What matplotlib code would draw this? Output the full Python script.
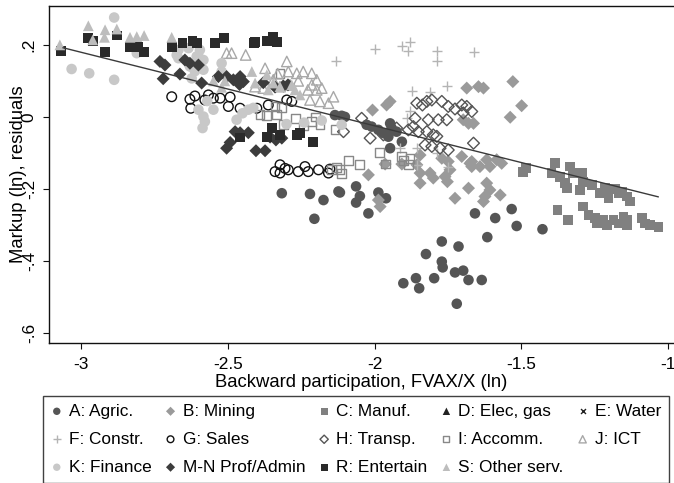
import matplotlib
matplotlib.use("Agg")
import matplotlib.pyplot as plt
import numpy as np

plt.rcParams['font.family'] = ['Liberation Sans', 'DejaVu Sans']

# ---------------- data ----------------
A_x = [-2.135, -2.112, -2.101, -2.027, -2.010, -1.987, -1.970, -1.947, -1.942, -1.925, -1.953, -1.907, -1.947,
       -2.316, -2.220, -2.174, -2.123, -2.205, -2.118, -2.063, -2.050, -2.063, -1.987, -1.961, -2.021,
       -1.658, -1.589, -1.533, -1.516, -1.616, -1.428,
       -1.771, -1.714, -1.825, -1.771, -1.768, -1.726, -1.698, -1.680, -1.635, -1.797, -1.859, -1.902, -1.848, -1.720]
A_y = [0.005, 0.003, 0.000, -0.022, -0.027, -0.036, -0.045, -0.018, -0.031, -0.041, -0.055, -0.069, -0.087,
       -0.212, -0.214, -0.231, -0.207, -0.283, -0.210, -0.193, -0.220, -0.238, -0.210, -0.226, -0.268,
       -0.268, -0.281, -0.256, -0.303, -0.334, -0.312,
       -0.346, -0.360, -0.381, -0.402, -0.418, -0.432, -0.427, -0.453, -0.453, -0.448, -0.448, -0.462, -0.476, -0.519]

B_x = [-2.007, -1.959, -1.947, -2.021, -1.964, -1.907, -1.845, -1.856, -1.845, -1.811, -1.845, -1.771, -1.749,
       -1.743, -1.760, -1.703, -1.669, -1.669, -1.680, -1.686, -1.646, -1.629, -1.529, -1.499, -1.538, -1.698,
       -1.680, -1.663, -1.675, -1.641, -1.618, -1.607, -1.584, -1.567, -1.618, -1.607, -1.624, -1.629, -1.572,
       -1.987, -1.981, -1.726, -1.752, -1.800]
B_y = [0.019, 0.033, 0.043, -0.161, -0.131, -0.131, -0.106, -0.133, -0.156, -0.156, -0.184, -0.115, -0.124,
       -0.147, -0.166, -0.110, -0.124, -0.138, -0.198, 0.080, 0.084, 0.080, 0.098, 0.031, -0.001, -0.008,
       -0.018, -0.018, -0.129, -0.138, -0.119, -0.138, -0.119, -0.129, -0.184, -0.203, -0.221, -0.235, -0.217,
       -0.231, -0.249, -0.226, -0.180, -0.170]

C_x = [-1.493, -1.484, -1.385, -1.397, -1.368, -1.351, -1.345, -1.334, -1.323, -1.294, -1.289, -1.300,
       -1.232, -1.215, -1.203, -1.169, -1.158, -1.141, -1.130, -1.377, -1.340, -1.289, -1.271, -1.249,
       -1.243, -1.220, -1.209, -1.186, -1.169, -1.152, -1.141, -1.141, -1.090, -1.078, -1.061, -1.033,
       -1.260, -1.180]
C_y = [-0.152, -0.143, -0.129, -0.156, -0.166, -0.184, -0.198, -0.138, -0.156, -0.156, -0.180, -0.203,
       -0.212, -0.198, -0.226, -0.212, -0.207, -0.221, -0.235, -0.258, -0.286, -0.249, -0.272, -0.281,
       -0.296, -0.286, -0.300, -0.286, -0.296, -0.277, -0.286, -0.300, -0.281, -0.296, -0.300, -0.305,
       -0.190, -0.200]

D_x, D_y = [], []
E_x, E_y = [], []

F_x = [-1.998, -1.907, -1.879, -1.885, -1.788, -1.788, -1.661, -2.131, -1.874, -1.811, -1.752,
       -1.879, -1.890, -1.913, -1.857, -1.857, -1.788, -1.750]
F_y = [0.188, 0.197, 0.209, 0.182, 0.184, 0.154, 0.179, 0.154, 0.073, 0.068, 0.086,
       0.015, -0.004, -0.087, -0.087, -0.133, -0.101, -0.140]

G_x = [-2.691, -2.629, -2.612, -2.626, -2.578, -2.566, -2.549, -2.526, -2.492, -2.498, -2.458, -2.401,
       -2.362, -2.299, -2.282,
       -2.322, -2.305, -2.339, -2.322, -2.294, -2.260, -2.237, -2.226, -2.191, -2.157, -2.152]
G_y = [0.056, 0.049, 0.058, 0.024, 0.047, 0.061, 0.052, 0.052, 0.055, 0.029, 0.024, 0.024,
       0.033, 0.047, 0.043,
       -0.133, -0.143, -0.152, -0.156, -0.147, -0.152, -0.138, -0.152, -0.147, -0.156, -0.145]

H_x = [-2.044, -2.106, -2.015, -1.970, -1.925, -1.856, -1.837, -1.822, -1.805, -1.771, -1.749, -1.726,
       -1.703, -1.686, -1.669, -1.698, -1.862, -1.817, -1.783, -1.754, -1.868, -1.851, -1.822, -1.800,
       -1.788, -1.885, -1.828, -1.805, -1.777, -1.749, -1.663]
H_y = [-0.004, -0.041, -0.059, -0.050, -0.031, 0.038, 0.033, 0.043, 0.047, 0.043, 0.029, 0.022,
       0.033, 0.029, 0.015, 0.011, -0.004, -0.008, -0.008, -0.008, -0.027, -0.041, -0.041, -0.050,
       -0.054, -0.036, -0.078, -0.082, -0.087, -0.092, -0.073]

I_x = [-2.390, -2.367, -2.333, -2.311, -2.339, -2.316, -2.243, -2.214, -2.186, -2.135, -2.322, -2.270,
       -2.200, -2.146, -2.129, -2.118, -2.112, -2.089, -2.052, -1.984, -1.964, -1.907, -1.902, -1.879, -1.885]
I_y = [0.006, 0.003, 0.006, -0.022, 0.029, 0.026, -0.025, -0.013, -0.022, -0.034, 0.121, -0.005,
       0.000, -0.147, -0.140, -0.147, -0.158, -0.122, -0.133, -0.099, -0.131, -0.110, -0.121, -0.115, -0.133]

J_x = [-2.504, -2.487, -2.439, -2.373, -2.299, -2.294, -2.265, -2.243, -2.214, -2.197, -2.180, -2.227,
       -2.214, -2.197, -2.220, -2.186, -2.157, -2.140, -2.345, -2.322, -2.288, -2.407, -2.379, -2.260, -2.330]
J_y = [0.177, 0.177, 0.172, 0.135, 0.154, 0.126, 0.121, 0.126, 0.121, 0.103, 0.080, 0.075,
       0.089, 0.075, 0.047, 0.043, 0.038, 0.056, 0.103, 0.084, 0.089, 0.084, 0.080, 0.100, 0.120]

K_x = [-3.032, -2.972, -2.887, -2.887, -2.810, -2.668, -2.634, -2.595, -2.606, -2.583, -2.629, -2.583,
       -2.612, -2.521, -2.521, -2.583, -2.578, -2.586, -2.470, -2.413, -2.430, -2.570, -2.549, -2.674,
       -2.668, -2.600, -2.623, -2.600, -2.450, -2.300, -2.240, -2.180, -2.112]
K_y = [0.133, 0.121, 0.103, 0.276, 0.177, 0.186, 0.191, 0.186, 0.168, 0.158, 0.140, 0.131,
       0.127, 0.149, 0.126, 0.001, -0.013, -0.031, -0.008, 0.025, 0.020, 0.044, 0.020, 0.172,
       0.163, 0.168, 0.107, 0.020, 0.010, -0.020, -0.016, -0.010, -0.022]

MN_x = [-2.731, -2.714, -2.720, -2.663, -2.646, -2.629, -2.600, -2.589, -2.532, -2.504, -2.481, -2.458,
        -2.447, -2.379, -2.339, -2.311, -2.295, -2.460,
        -2.504, -2.492, -2.475, -2.458, -2.430, -2.404, -2.373, -2.356, -2.336, -2.316]
MN_y = [0.154, 0.144, 0.106, 0.119, 0.158, 0.149, 0.144, 0.094, 0.112, 0.112, 0.103, 0.112,
        0.098, 0.095, 0.083, 0.086, 0.089, 0.090,
        -0.087, -0.071, -0.041, -0.044, -0.044, -0.094, -0.094, -0.056, -0.064, -0.059]

R_x = [-3.069, -2.975, -2.960, -2.918, -2.878, -2.833, -2.805, -2.784, -2.691, -2.654, -2.620, -2.604,
       -2.543, -2.513, -2.411, -2.407, -2.367, -2.347, -2.333,
       -2.458, -2.367, -2.350, -2.322, -2.265, -2.254, -2.209]
R_y = [0.183, 0.219, 0.210, 0.181, 0.226, 0.195, 0.194, 0.181, 0.195, 0.206, 0.211, 0.206,
       0.205, 0.220, 0.205, 0.209, 0.211, 0.223, 0.209,
       -0.057, -0.056, -0.031, -0.050, -0.050, -0.044, -0.069]

S_x = [-3.072, -2.975, -2.918, -2.878, -2.960, -2.920, -2.833, -2.810, -2.785, -2.691, -2.418, -2.367,
       -2.407, -2.362, -2.345, -2.322, -2.282, -2.271, -2.254, -2.549, -2.521, -2.510]
S_y = [0.200, 0.253, 0.242, 0.244, 0.214, 0.221, 0.221, 0.223, 0.226, 0.221, 0.126, 0.117,
       0.094, 0.075, 0.094, 0.084, 0.089, 0.075, 0.061, 0.100, 0.082, 0.100]

labels = ["A: Agric.", "B: Mining", "C: Manuf.", "D: Elec, gas", "E: Water",
          "F: Constr.", "G: Sales", "H: Transp.", "I: Accomm.", "J: ICT",
          "K: Finance", "M-N Prof/Admin", "R: Entertain", "S: Other serv."]

fit_x = [-3.061, -1.034]
fit_y = [0.192, -0.222]

x_ticks = [-3, -2.5, -2, -1.5, -1]
x_ticklabels = ["-3", "-2.5", "-2", "-1.5", "-1"]
y_ticks = [0.2, 0, -0.2, -0.4, -0.6]
y_ticklabels = [".2", "0", "-.2", "-.4", "-.6"]

# ---------------- styles ----------------
series = [
    (A_x, A_y, dict(marker='o', s=58, facecolors='#555555', edgecolors='none')),
    (B_x, B_y, dict(marker='D', s=44, facecolors='#9a9a9a', edgecolors='none')),
    (C_x, C_y, dict(marker='s', s=50, facecolors='#808080', edgecolors='none')),
    (D_x, D_y, dict(marker='^', s=58, facecolors='#222222', edgecolors='none')),
    (E_x, E_y, dict(marker='x', s=26, color='#222222', linewidths=1.0)),
    (F_x, F_y, dict(marker='+', s=60, color='#b4b4b4', linewidths=1.0)),
    (G_x, G_y, dict(marker='o', s=48, facecolors='none', edgecolors='#111111', linewidths=1.0)),
    (H_x, H_y, dict(marker='D', s=36, facecolors='none', edgecolors='#555555', linewidths=1.0)),
    (I_x, I_y, dict(marker='s', s=40, facecolors='none', edgecolors='#888888', linewidths=1.0)),
    (J_x, J_y, dict(marker='^', s=56, facecolors='none', edgecolors='#a8a8a8', linewidths=1.0)),
    (K_x, K_y, dict(marker='o', s=58, facecolors='#c8c8c8', edgecolors='none')),
    (MN_x, MN_y, dict(marker='D', s=44, facecolors='#3c3c3c', edgecolors='none')),
    (R_x, R_y, dict(marker='s', s=50, facecolors='#2a2a2a', edgecolors='none')),
    (S_x, S_y, dict(marker='^', s=60, facecolors='#bdbdbd', edgecolors='none')),
]

fig = plt.figure(figsize=(6.74, 4.83), dpi=100)
ax = fig.add_axes([49/674, 140/483, 625/674, 337/483])

handles = []
for (xs, ys, st), lab in zip(series, labels):
    h = ax.scatter(xs, ys, label=lab, zorder=2, **st)
    handles.append(h)

ax.plot(fit_x, fit_y, color='#3a3a3a', lw=1.0, zorder=3)

ax.set_xlim(-3.109, -0.980)
ax.set_ylim(-0.628, 0.308)
ax.set_xticks(x_ticks, x_ticklabels)
ax.set_yticks(y_ticks, y_ticklabels)
ax.tick_params(axis='both', labelsize=12.4, length=4.3, width=0.8, color='#111111')
ax.tick_params(axis='x', pad=6.0)
ax.tick_params(axis='y', labelrotation=90, pad=4.5)
for lab in ax.get_yticklabels():
    lab.set_va('center')
for sp in ['left', 'bottom', 'top']:
    ax.spines[sp].set_linewidth(1.0)
    ax.spines[sp].set_color('#111111')
ax.spines['right'].set_visible(False)

ax.set_xlabel("Backward participation, FVAX/X (ln)", fontsize=13.3)
ax.set_ylabel("Markup (ln), residuals", fontsize=13.3)
ax.xaxis.set_label_coords(0.5, -0.093)
ax.yaxis.set_label_coords(-0.035, 0.5)

# legend: row-major display order for 5 columns
order = [0, 5, 10, 1, 6, 11, 2, 7, 12, 3, 8, 13, 4, 9]
leg = fig.legend([handles[i] for i in order], [labels[i] for i in order],
                 ncol=5, loc='upper left',
                 bbox_to_anchor=(43/674, 1 - 396/483),
                 bbox_transform=fig.transFigure,
                 fontsize=12.4, frameon=True, fancybox=False, borderaxespad=0,
                 handlelength=0.7, handletextpad=0.35, columnspacing=0.75,
                 labelspacing=0.75, borderpad=0.45, markerscale=0.7)
leg.get_frame().set_edgecolor('#111111')
leg.get_frame().set_linewidth(1.0)

fig.savefig("out.png", dpi=100)
